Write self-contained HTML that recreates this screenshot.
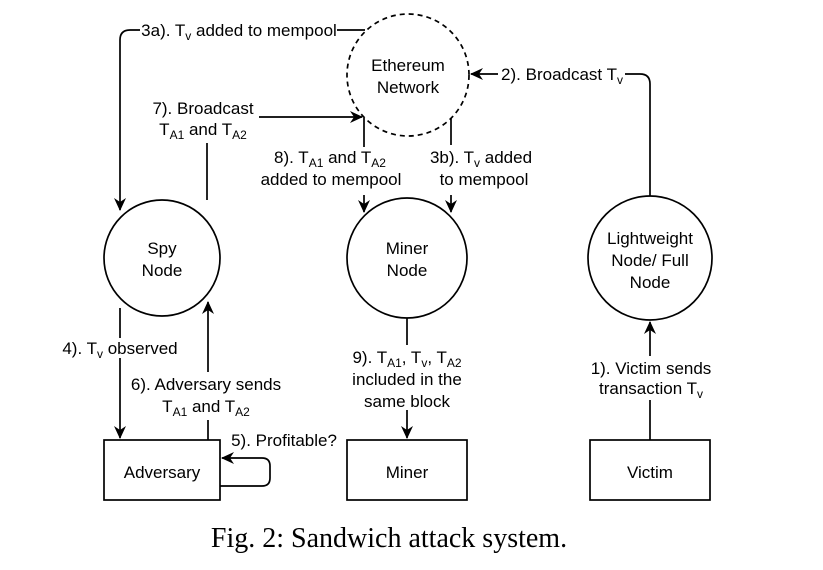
<!DOCTYPE html>
<html><head><meta charset="utf-8"><style>
html,body{margin:0;padding:0;background:#fff;}
svg{display:block;}
text{font-family:"Liberation Sans",sans-serif;font-size:17px;fill:#000;}
.cap{font-family:"Liberation Serif",serif;font-size:28px;}
</style></head><body>
<svg width="823" height="570" viewBox="0 0 823 570">
<defs><marker id="ah" markerWidth="13" markerHeight="12" refX="12" refY="6" orient="auto" markerUnits="userSpaceOnUse">
<path d="M0,0 L13,6 L0,12 L4,6 Z" fill="#000"/></marker></defs>
<g stroke="#000" stroke-width="1.7" fill="none">
<circle cx="408" cy="75" r="61" stroke-dasharray="5,4"/>
<circle cx="162" cy="258" r="58"/>
<circle cx="407" cy="258" r="60"/>
<circle cx="650" cy="258" r="62"/>
<rect x="104" y="440" width="116" height="60"/>
<rect x="347" y="440" width="120" height="60"/>
<rect x="590" y="440" width="120" height="60"/>
<path d="M365,30 L337,30 M140,30 L130,30 Q120,30 120,40 L120,210" marker-end="url(#ah)"/>
<path d="M650,196 L650,84 Q650,74 640,74 L625,74 M498,74 L471,74" marker-end="url(#ah)"/>
<path d="M207,200 L207,143" />
<path d="M259,117 L362,117" marker-end="url(#ah)"/>
<path d="M364,118 L364,147 M364,195 L364,212" marker-end="url(#ah)"/>
<path d="M451,118 L451,145 M451,195 L451,212" marker-end="url(#ah)"/>
<path d="M120,308 L120,438" marker-end="url(#ah)"/>
<path d="M208,440 L208,302" marker-end="url(#ah)"/>
<path d="M220,486 L262,486 Q270,486 270,478 L270,466 Q270,458 262,458 L222,458" marker-end="url(#ah)"/>
<path d="M407,318 L407,345 M407,410 L407,438" marker-end="url(#ah)"/>
<path d="M650,440 L650,400 M650,356 L650,322" marker-end="url(#ah)"/>
</g>
<g stroke="none" fill="#fff">
<rect x="112" y="338" width="16" height="20"/>
<rect x="596" y="356" width="108" height="44"/>
<rect x="132" y="372" width="148" height="48"/>
</g>
<g text-anchor="middle">
<text x="408" y="71">Ethereum</text>
<text x="408" y="93">Network</text>
<text x="162" y="254">Spy</text>
<text x="162" y="276">Node</text>
<text x="407" y="254">Miner</text>
<text x="407" y="276">Node</text>
<text x="650" y="244">Lightweight</text>
<text x="650" y="266">Node/ Full</text>
<text x="650" y="288">Node</text>
<text x="162" y="478">Adversary</text>
<text x="407" y="478">Miner</text>
<text x="650" y="478">Victim</text>
<text x="239" y="36">3a). T<tspan font-size="12" dy="4">v</tspan><tspan dy="-4"> added to mempool</tspan></text>
<text x="562" y="80">2). Broadcast T<tspan font-size="12" dy="4">v</tspan></text>
<text x="203" y="114">7). Broadcast</text>
<text x="203" y="135">T<tspan font-size="12" dy="4">A1</tspan><tspan dy="-4"> and T</tspan><tspan font-size="12" dy="4">A2</tspan></text>
<text x="330" y="163">8). T<tspan font-size="12" dy="4">A1</tspan><tspan dy="-4"> and T</tspan><tspan font-size="12" dy="4">A2</tspan></text>
<text x="331" y="185">added to mempool</text>
<text x="481" y="163">3b). T<tspan font-size="12" dy="4">v</tspan><tspan dy="-4"> added</tspan></text>
<text x="484" y="185">to mempool</text>
<text x="120" y="354">4). T<tspan font-size="12" dy="4">v</tspan><tspan dy="-4"> observed</tspan></text>
<text x="206" y="390">6). Adversary sends</text>
<text x="206" y="412">T<tspan font-size="12" dy="4">A1</tspan><tspan dy="-4"> and T</tspan><tspan font-size="12" dy="4">A2</tspan></text>
<text x="284" y="446">5). Profitable?</text>
<text x="407" y="363">9). T<tspan font-size="12" dy="4">A1</tspan><tspan dy="-4">, T</tspan><tspan font-size="12" dy="4">v</tspan><tspan dy="-4">, T</tspan><tspan font-size="12" dy="4">A2</tspan></text>
<text x="407" y="385">included in the</text>
<text x="407" y="407">same block</text>
<text x="651" y="374">1). Victim sends</text>
<text x="651" y="394">transaction T<tspan font-size="12" dy="4">v</tspan></text>
<text class="cap" x="389" y="547">Fig. 2: Sandwich attack system.</text>
</g>
</svg>
</body></html>
